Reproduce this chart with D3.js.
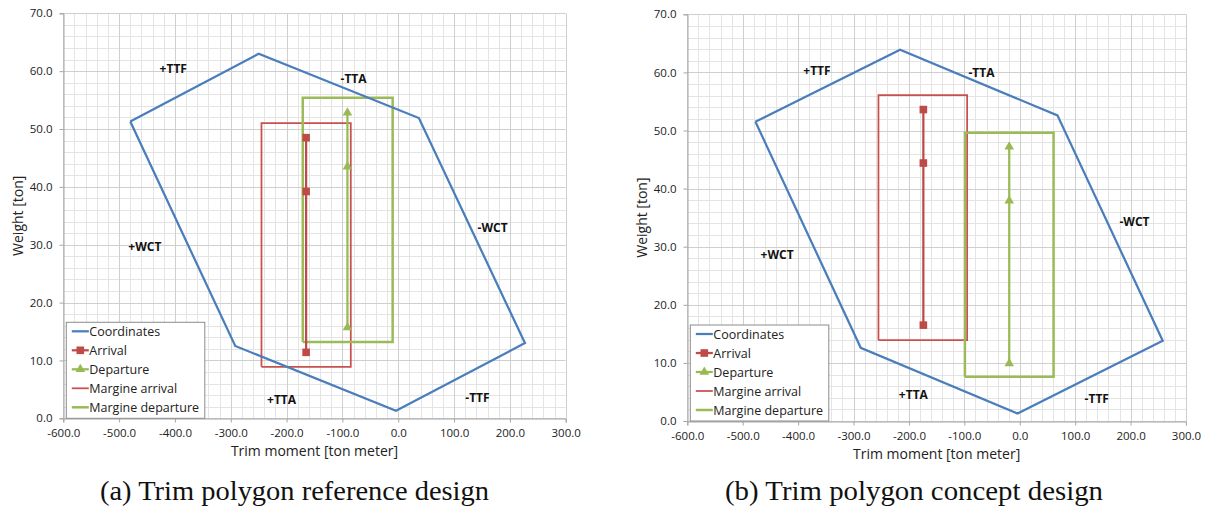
<!DOCTYPE html>
<html><head><meta charset="utf-8">
<script src="https://cdn.jsdelivr.net/npm/d3@7"></script>
<style>
  body { margin: 0; background: #fff; }
  svg { display: block; }
  .tick-label { font-family: "Open Sans", "Liberation Sans", sans-serif; font-size: 11.5px; fill: #222; }
  .axis-title { font-family: "Open Sans", "Liberation Sans", sans-serif; font-size: 14px; fill: #222; }
  .region { font-family: "Open Sans", "Liberation Sans", sans-serif; font-size: 12px; font-weight: 700; fill: #111; }
  .legend-text { font-family: "Open Sans", "Liberation Sans", sans-serif; font-size: 12.5px; fill: #222; }
  .caption { font-family: "Liberation Serif", "DejaVu Serif", serif; font-size: 27px; fill: #111; }
</style>
</head><body>
<svg id="fig" width="1205" height="506"></svg>
<script>
// Axis ticks shared by both panels
const xTicks = [-600, -500, -400, -300, -200, -100, 0, 100, 200, 300];
const yTicks = [0, 10, 20, 30, 40, 50, 60, 70];

// (a) Reference design: [trim moment, weight]
const refCoordinates = [[-480, 51.3], [-250, 63.0], [37, 51.9], [227, 13.0], [-4, 1.3], [-292, 12.5], [-480, 51.3]];
const refArrival = [[-165, 48.5], [-165, 39.2], [-165, 11.4]];
const refDeparture = [[-91, 15.7], [-91, 43.5], [-91, 52.8]];
const refMarginArrival = [[-245, 8.9], [-245, 51.0], [-85, 51.0], [-85, 8.9], [-245, 8.9]];
const refMarginDeparture = [[-171, 13.2], [-171, 55.4], [-10, 55.4], [-10, 13.2], [-171, 13.2]];
const refRegionLabels = [["+TTF", -403, 60.5], ["-TTA", -80, 58.8], ["-WCT", 169, 32.9],
                         ["+WCT", -454, 29.7], ["+TTA", -209, 3.2], ["-TTF", 142, 3.6]];

// (b) Concept design: [trim moment, weight]
const conCoordinates = [[-477, 51.5], [-216, 63.9], [68, 52.6], [258, 13.8], [-4, 1.3], [-287, 12.6], [-477, 51.5]];
const conArrival = [[-174, 53.6], [-174, 44.4], [-174, 16.5]];
const conDeparture = [[-19, 9.9], [-19, 37.9], [-19, 47.2]];
const conMarginArrival = [[-255, 13.9], [-255, 56.1], [-95, 56.1], [-95, 13.9], [-255, 13.9]];
const conMarginDeparture = [[-99, 7.6], [-99, 49.6], [61, 49.6], [61, 7.6], [-99, 7.6]];
const conRegionLabels = [["+TTF", -366, 60.3], ["-TTA", -69, 60.0], ["-WCT", 207, 34.4],
                         ["+WCT", -438, 28.7], ["+TTA", -192, 4.5], ["-TTF", 139, 3.9]];

const seriesNames = ["Coordinates", "Arrival", "Departure", "Margine arrival", "Margine departure"];
const captions = ["(a) Trim polygon reference design", "(b) Trim polygon concept design"];
const xTitle = "Trim moment [ton meter]";
const yTitle = "Weight [ton]";

// Series styling
const styles = {
  "Coordinates":       { color: "#4A7EBB", width: 2.25, marker: null },
  "Arrival":           { color: "#BE4B48", width: 2.25, marker: "square" },
  "Departure":         { color: "#98B954", width: 2.25, marker: "triangle" },
  "Margine arrival":   { color: "#C8504D", width: 1.75, marker: null },
  "Margine departure": { color: "#9BBB59", width: 2.5,  marker: null }
};

const panels = [
  { box: { left: 63.3, right: 565.7, top: 13.3, bottom: 418.3 }, caption: captions[0], capX: 294.5, capW: 389,
    series: [refCoordinates, refArrival, refDeparture, refMarginArrival, refMarginDeparture], labels: refRegionLabels },
  { box: { left: 687.3, right: 1186, top: 14.3, bottom: 421 }, caption: captions[1], capX: 914, capW: 378,
    series: [conCoordinates, conArrival, conDeparture, conMarginArrival, conMarginDeparture], labels: conRegionLabels }
];

const svg = d3.select("#fig");
const fmt = d => d.toFixed(1);

function drawMarker(g, type, cx, cy, color) {
  if (type === "square") {
    g.append("rect").attr("x", cx - 3.8).attr("y", cy - 3.8).attr("width", 7.6).attr("height", 7.6).attr("fill", color);
  } else if (type === "triangle") {
    g.append("path").attr("d", d3.symbol(d3.symbolTriangle, 40)()).attr("transform", `translate(${cx},${cy})`).attr("fill", color);
  }
}

panels.forEach(p => {
  const b = p.box;
  const x = d3.scaleLinear().domain([-600, 300]).range([b.left, b.right]);
  const y = d3.scaleLinear().domain([0, 70]).range([b.bottom, b.top]);
  const g = svg.append("g");

  // minor grid
  const grid = g.append("g");
  grid.selectAll(".mx").data(d3.range(-600, 301, 20).filter(v => v % 100 !== 0)).join("line")
    .attr("x1", d => Math.round(x(d)) + 0.5).attr("x2", d => Math.round(x(d)) + 0.5)
    .attr("y1", b.top).attr("y2", b.bottom).attr("stroke", "#e4e4e4");
  grid.selectAll(".my").data(d3.range(0, 70.01, 2).filter(v => v % 10 !== 0)).join("line")
    .attr("y1", d => Math.round(y(d)) + 0.5).attr("y2", d => Math.round(y(d)) + 0.5)
    .attr("x1", b.left).attr("x2", b.right).attr("stroke", "#e4e4e4");
  // major grid
  grid.selectAll(".Mx").data(xTicks).join("line")
    .attr("x1", d => Math.round(x(d)) + 0.5).attr("x2", d => Math.round(x(d)) + 0.5)
    .attr("y1", b.top).attr("y2", b.bottom).attr("stroke", "#cfcfcf");
  grid.selectAll(".My").data(yTicks).join("line")
    .attr("y1", d => Math.round(y(d)) + 0.5).attr("y2", d => Math.round(y(d)) + 0.5)
    .attr("x1", b.left).attr("x2", b.right).attr("stroke", "#cfcfcf");

  // axes
  const xAxis = d3.axisBottom(x).tickValues(xTicks).tickFormat(fmt).tickSize(4).tickPadding(6);
  const yAxis = d3.axisLeft(y).tickValues(yTicks).tickFormat(fmt).tickSize(4).tickPadding(7);
  const gx = g.append("g").attr("transform", `translate(0,${Math.round(b.bottom) + 0.5})`).call(xAxis);
  const gy = g.append("g").attr("transform", `translate(${Math.round(b.left) + 0.5},0)`).call(yAxis);
  [gx, gy].forEach(a => {
    a.select(".domain").attr("stroke", "#a6a6a6");
    a.selectAll(".tick line").attr("stroke", "#a6a6a6");
    a.selectAll(".tick text").attr("class", "tick-label").attr("fill", null);
  });

  // axis titles
  g.append("text").attr("class", "axis-title").attr("text-anchor", "middle")
    .attr("x", (b.left + b.right) / 2).attr("y", b.bottom + 38).text(xTitle);
  g.append("text").attr("class", "axis-title").attr("text-anchor", "middle")
    .attr("transform", `translate(${b.left - 40},${(b.top + b.bottom) / 2}) rotate(-90)`).text(yTitle);

  // series
  const line = d3.line().x(d => x(d[0])).y(d => y(d[1]));
  const order = [3, 4, 0, 1, 2];
  order.forEach(i => {
    const name = seriesNames[i];
    const s = styles[name];
    g.append("path").attr("d", line(p.series[i])).attr("fill", "none")
      .attr("stroke", s.color).attr("stroke-width", s.width).attr("stroke-linejoin", "miter");
    if (s.marker) {
      p.series[i].forEach(d => drawMarker(g, s.marker, x(d[0]), y(d[1]), s.color));
    }
  });

  // region labels
  g.selectAll(".region").data(p.labels).join("text").attr("class", "region")
    .attr("text-anchor", "middle").attr("dominant-baseline", "central")
    .attr("x", d => x(d[1])).attr("y", d => y(d[2])).text(d => d[0]);

  // legend
  const lg = g.append("g").attr("transform", `translate(${b.left + 2.5},${b.bottom - 96.5})`);
  lg.append("rect").attr("x", 0.5).attr("y", 0.5).attr("width", 138.5).attr("height", 96).attr("fill", "#fff").attr("stroke", "#8c8c8c");
  seriesNames.forEach((name, i) => {
    const s = styles[name];
    const cy = 9.5 + i * 19;
    lg.append("line").attr("x1", 6).attr("x2", 23).attr("y1", cy).attr("y2", cy)
      .attr("stroke", s.color).attr("stroke-width", s.width);
    if (s.marker) drawMarker(lg, s.marker, 14.5, cy, s.color);
    lg.append("text").attr("class", "legend-text").attr("x", 23.5).attr("y", cy).attr("dominant-baseline", "central").text(name);
  });

  // caption
  svg.append("text").attr("class", "caption").attr("text-anchor", "middle")
    .attr("x", p.capX).attr("y", 500).attr("textLength", p.capW).attr("lengthAdjust", "spacingAndGlyphs").text(p.caption);
});
</script>
</body></html>
